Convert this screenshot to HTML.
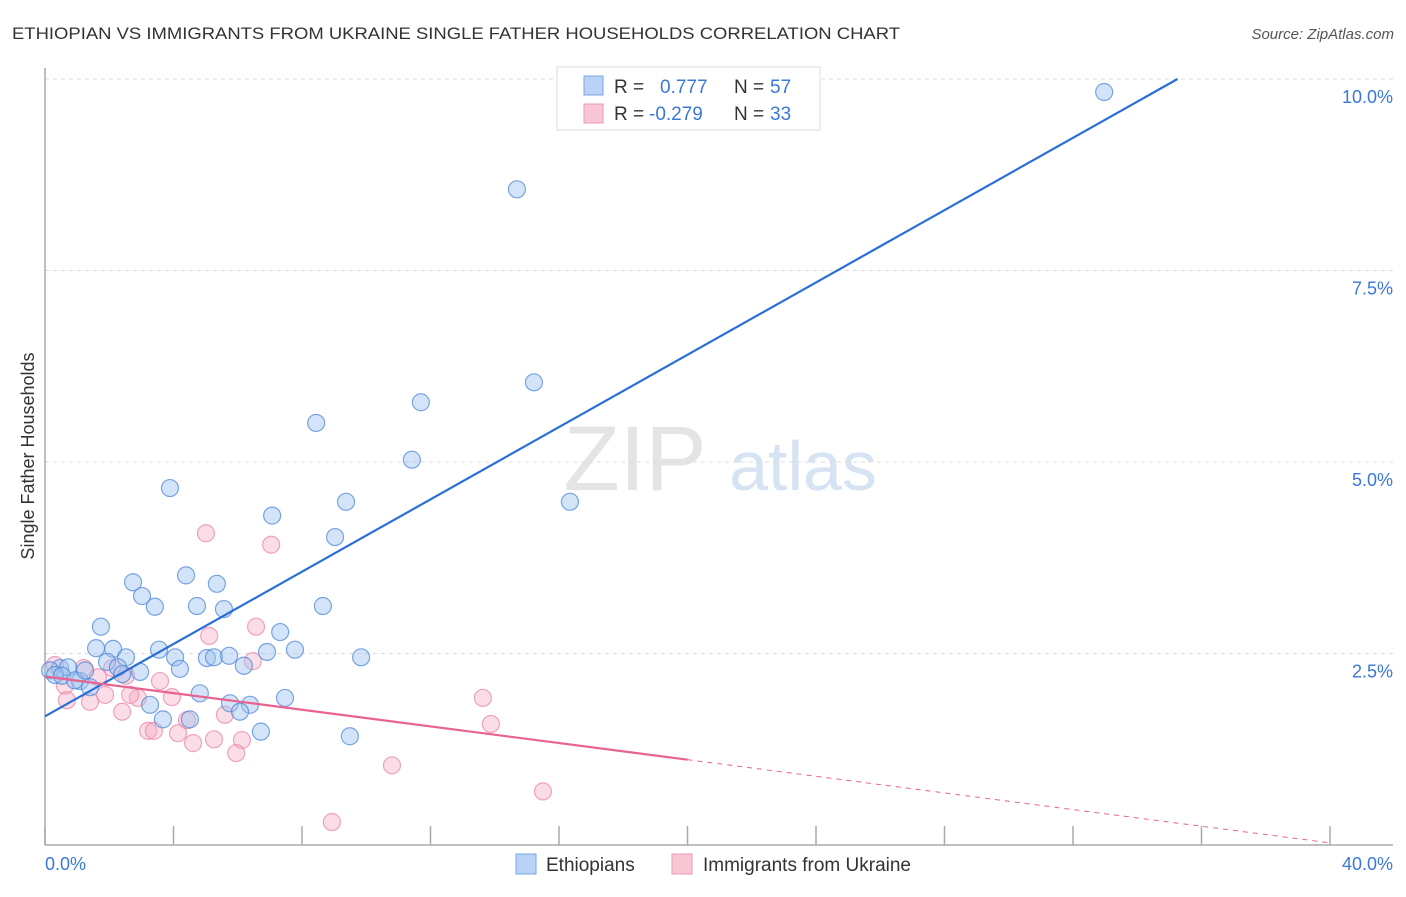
<!DOCTYPE html>
<html><head><meta charset="utf-8">
<style>
body{margin:0;background:#fff;font-family:"Liberation Sans",sans-serif;}
svg text{font-family:"Liberation Sans",sans-serif;}
</style></head>
<body>
<svg id="chart" width="1406" height="892" viewBox="0 0 1406 892" xmlns="http://www.w3.org/2000/svg">
<text x="12" y="39" font-size="17" fill="#333" textLength="888" lengthAdjust="spacingAndGlyphs">ETHIOPIAN VS IMMIGRANTS FROM UKRAINE SINGLE FATHER HOUSEHOLDS CORRELATION CHART</text>
<text x="1394" y="39" font-size="15" fill="#555" text-anchor="end" font-style="italic">Source: ZipAtlas.com</text>
<g>
<text x="635" y="490" font-size="92" fill="#e4e4e4" text-anchor="middle" font-family="Liberation Serif">ZIP</text>
<text x="803" y="490" font-size="70" fill="#d6e3f3" text-anchor="middle">atlas</text>
</g>
<g id="grid"></g>
<g id="axes"></g>
<g id="pts"></g>
<g id="lines"></g>
<text transform="translate(34,456) rotate(-90)" font-size="18" fill="#333" text-anchor="middle">Single Father Households</text>
<g>
<rect x="557" y="67" width="263" height="63" fill="#fff" stroke="#ddd"/>
<rect x="584" y="76" width="19" height="19" fill="#b8d3f5" stroke="#7aa7e0"/>
<rect x="584" y="104" width="19" height="19" fill="#f9c6d6" stroke="#eb9ab4"/>
<text x="614" y="93" font-size="19" fill="#333">R =</text>
<text x="660" y="93" font-size="19" fill="#3b78d8">0.777</text>
<text x="734" y="93" font-size="19" fill="#333">N =</text>
<text x="770" y="93" font-size="19" fill="#3b78d8">57</text>
<text x="614" y="120" font-size="19" fill="#333">R =</text>
<text x="649" y="120" font-size="19" fill="#3b78d8">-0.279</text>
<text x="734" y="120" font-size="19" fill="#333">N =</text>
<text x="770" y="120" font-size="19" fill="#3b78d8">33</text>
</g>
<g>
<rect x="516" y="854" width="20" height="20" fill="#b8d3f5" stroke="#7aa7e0"/>
<text x="546" y="871" font-size="19" fill="#333">Ethiopians</text>
<rect x="672" y="854" width="20" height="20" fill="#f9c6d6" stroke="#eb9ab4"/>
<text x="703" y="871" font-size="19" fill="#333">Immigrants from Ukraine</text>
</g>
</svg>
<script>
const blueX=[32.97,14.69,15.22,11.70,8.44,11.42,3.89,9.37,16.34,7.07,9.03,2.74,4.39,5.35,3.02,3.42,4.73,5.57,8.65,1.74,7.32,1.59,2.12,3.55,6.91,7.78,2.52,4.05,5.04,5.26,5.73,9.84,1.93,2.27,2.96,2.40,4.20,6.19,0.47,0.72,0.16,0.31,0.53,1.09,1.40,4.82,7.47,5.76,6.38,3.27,6.07,3.67,4.51,6.72,9.49,0.93,1.25];
const blueY=[9.83,8.56,6.04,5.78,5.51,5.03,4.66,4.48,4.48,4.30,4.02,3.43,3.52,3.41,3.25,3.11,3.12,3.08,3.12,2.85,2.78,2.57,2.56,2.55,2.52,2.55,2.45,2.45,2.44,2.45,2.47,2.45,2.39,2.32,2.26,2.23,2.30,2.34,2.31,2.32,2.28,2.22,2.21,2.14,2.06,1.98,1.92,1.85,1.83,1.83,1.74,1.64,1.64,1.48,1.42,2.15,2.28];
const pinkX=[5.01,7.04,6.57,5.11,6.47,2.09,1.21,0.31,1.65,3.58,2.52,0.62,1.87,2.89,3.95,2.65,13.63,0.68,1.40,2.40,5.60,13.88,4.42,3.21,3.39,4.14,4.61,5.26,6.13,5.95,10.80,15.50,8.93];
const pinkY=[4.07,3.92,2.85,2.73,2.40,2.31,2.31,2.35,2.19,2.14,2.21,2.08,1.96,1.92,1.93,1.96,1.92,1.89,1.87,1.74,1.70,1.58,1.63,1.49,1.49,1.46,1.33,1.38,1.37,1.20,1.04,0.70,0.30];
const yTicks=[2.5,5.0,7.5,10.0];
const yTickLabels=["2.5%","5.0%","7.5%","10.0%"];
const xTicks=[0,4,8,12,16,20,24,28,32,36,40];
const xEndLabels=["0.0%","40.0%"];
const blueTrend=[1.68,0.236];
const pinkTrend=[2.2,-0.0543];
const NS="http://www.w3.org/2000/svg";
const sx=v=>45+v*32.125, sy=v=>845-v*76.6;
function mk(tag,attrs,parent){const e=document.createElementNS(NS,tag);for(const k in attrs)e.setAttribute(k,attrs[k]);parent.appendChild(e);return e;}
const grid=document.getElementById('grid'),axes=document.getElementById('axes'),pts=document.getElementById('pts'),lines=document.getElementById('lines');
yTicks.forEach((t,i)=>{
 const l=mk('line',{x1:45,x2:1393,y1:sy(t),y2:sy(t),stroke:'#ddd','stroke-dasharray':'4,4'},grid);
 
 
 const tx=mk('text',{x:1393,y:sy(t)+24,'font-size':18,fill:'#3b78d8','text-anchor':'end'},axes);
 tx.textContent=yTickLabels[i];
 
 
});
const topGrid=mk('line',{x1:45,x2:1393,y1:79,y2:79,stroke:'#ddd','stroke-dasharray':'4,4'},grid);


const ya=mk('line',{x1:45,x2:45,y1:68,y2:845,stroke:'#aaa','stroke-width':1.5},axes);


const xa=mk('line',{x1:45,x2:1393,y1:845,y2:845,stroke:'#aaa','stroke-width':1.5},axes);


xTicks.forEach(t=>{
 const l=mk('line',{x1:sx(t),x2:sx(t),y1:826,y2:845,stroke:'#aaa','stroke-width':1.5},axes);
 
 
});
[[0,'start'],[40,'end']].forEach((p,i)=>{
 const tx=mk('text',{x:i?1393:45,y:870,'font-size':18,fill:'#3b78d8','text-anchor':p[1]},axes);
 tx.textContent=xEndLabels[i];
 
 
});
pinkX.forEach((x,i)=>{
 const c=mk('circle',{cx:sx(x),cy:sy(pinkY[i]),r:8.5,fill:'rgba(245,170,195,0.4)',stroke:'rgba(232,130,165,0.7)','stroke-width':1.2},pts);
 
 
});
blueX.forEach((x,i)=>{
 const c=mk('circle',{cx:sx(x),cy:sy(blueY[i]),r:8.5,fill:'rgba(160,195,240,0.45)',stroke:'rgba(70,130,215,0.7)','stroke-width':1.2},pts);
 
 
});
const bxEnd=(10-blueTrend[0])/blueTrend[1];
const bl=mk('line',{x1:sx(0),y1:sy(blueTrend[0]),x2:sx(bxEnd),y2:sy(10),stroke:'#2a6fd6','stroke-width':2.2},lines);


const pl=mk('line',{x1:sx(0),y1:sy(pinkTrend[0]),x2:sx(20),y2:sy(pinkTrend[0]+pinkTrend[1]*20),stroke:'#e8638f','stroke-width':2.2},lines);


const pd=mk('line',{x1:sx(20),y1:sy(pinkTrend[0]+pinkTrend[1]*20),x2:sx(40),y2:sy(pinkTrend[0]+pinkTrend[1]*40),stroke:'#e8638f','stroke-width':1,'stroke-dasharray':'5,5'},lines);


</script>
</body></html>
